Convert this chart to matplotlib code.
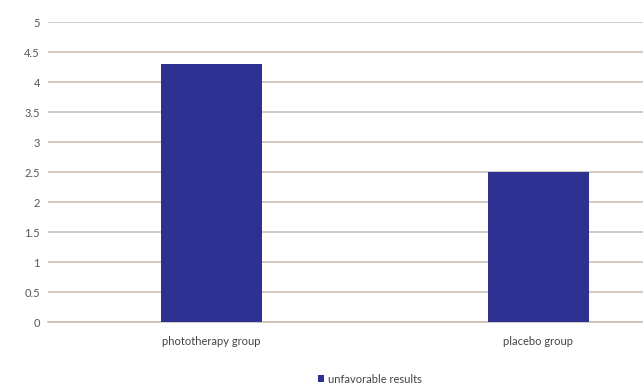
import matplotlib.pyplot as plt
import numpy as np

categories = ['phototherapy group', 'placebo group']
values = [4.3, 2.5]
series_name = 'unfavorable results'
yticks = [0, 0.5, 1, 1.5, 2, 2.5, 3, 3.5, 4, 4.5, 5]

plt.rcParams['font.family'] = ['Lato', 'DejaVu Sans']

fig = plt.figure(figsize=(6.43, 3.89), dpi=100)
ax = fig.add_axes([0.075, 0.172, 0.925, 0.771])

x = np.arange(len(categories))
ax.bar(x, values, width=0.31, color='#2e3192', zorder=3, label=series_name)

ax.set_xlim(-0.5, 1.32)
ax.set_ylim(0, 5)
ax.set_yticks(yticks)
ax.set_yticklabels([f'{t:g}' for t in yticks], fontsize=8, color='#555555')
ax.set_xticks(x)
ax.set_xticklabels(categories, fontsize=8, color='#444444')
ax.tick_params(axis='both', length=0, pad=6)
ax.tick_params(axis='x', pad=10)

ax.grid(axis='y', color='#c9c0b8', linewidth=1.2, zorder=0)
for s in ['top', 'right', 'left']:
    ax.spines[s].set_visible(False)
ax.spines['bottom'].set_color('#c9c0b8')
ax.spines['bottom'].set_linewidth(1.2)

fig.legend(loc='center', bbox_to_anchor=(0.575, 0.025), frameon=False, fontsize=8,
           handlelength=0.6, handleheight=0.6, handletextpad=0.3, labelcolor='#444444')

plt.savefig('out.png', dpi=100)
